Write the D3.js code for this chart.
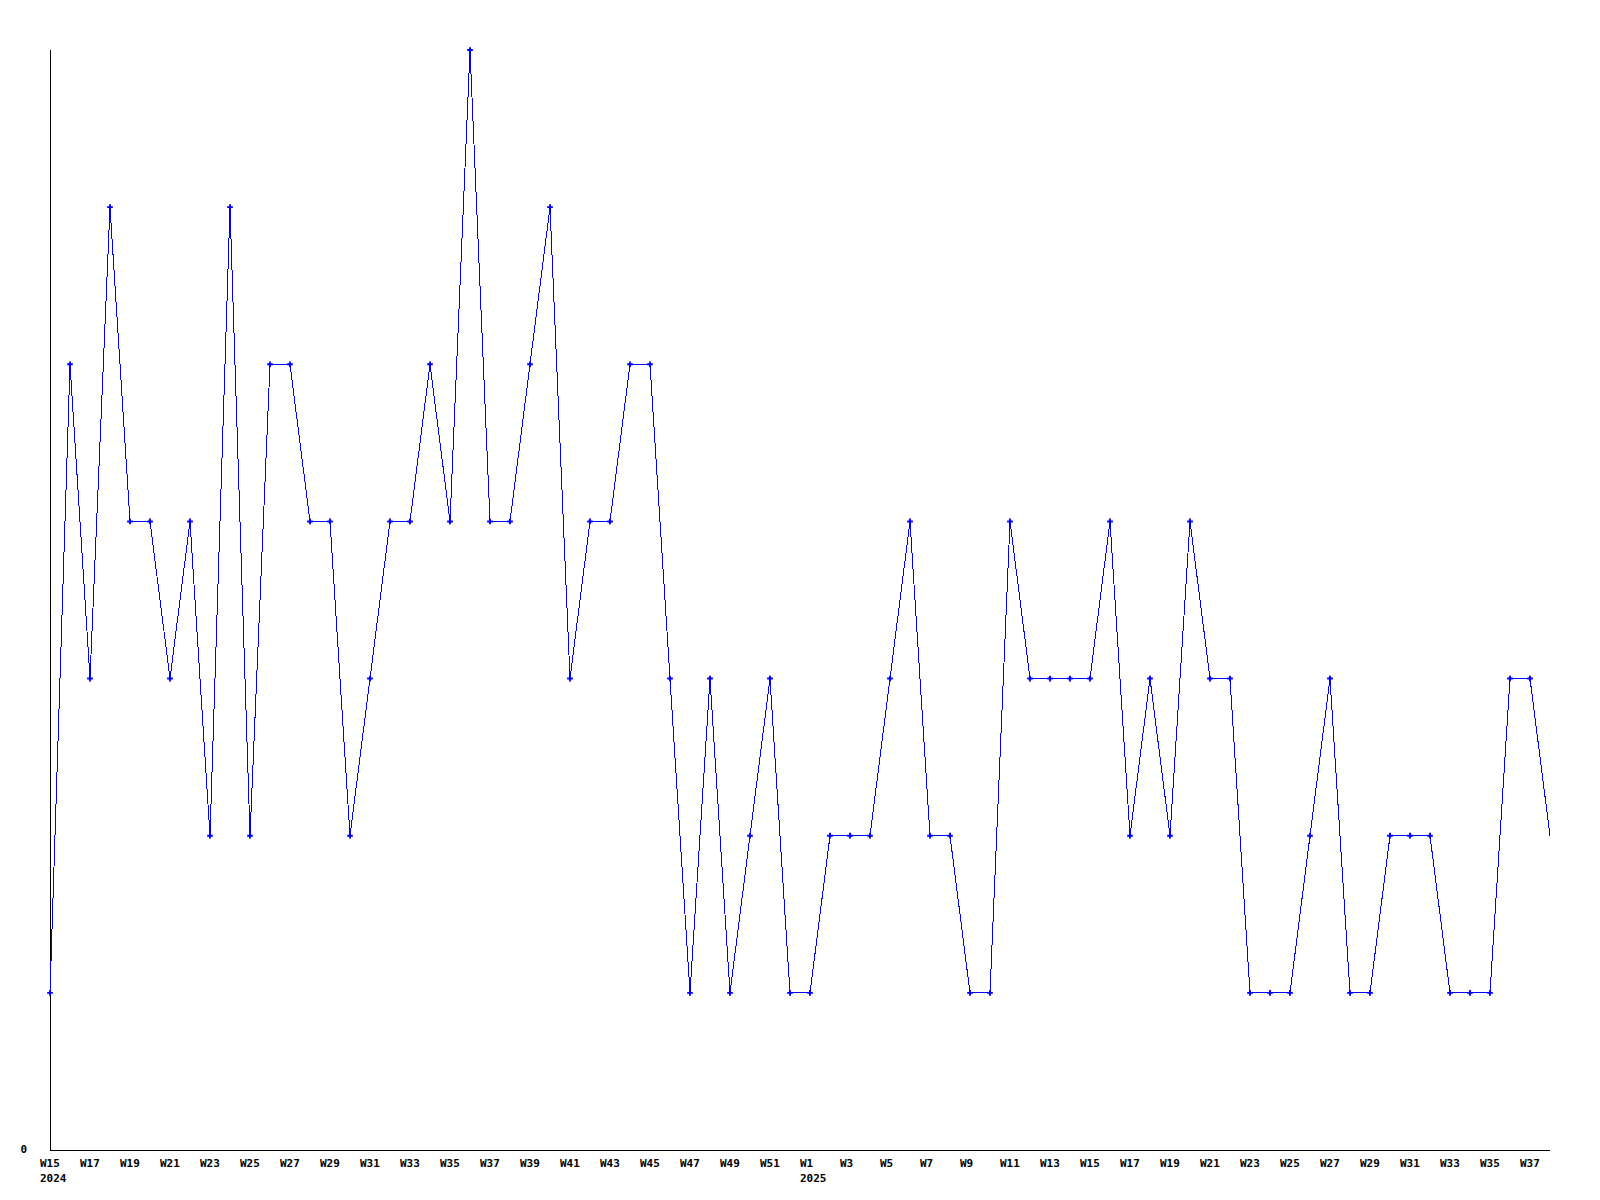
<!DOCTYPE html>
<html lang="en">
	<head>
		<meta charset="utf-8">
		<title>Weekly count</title>
		<script type="text/javascript" src="https://d3js.org/d3.v7.min.js"></script>
		<style>
			body { margin: 0; background: #fff; }
			text { font-family: "DejaVu Sans Mono", monospace; font-weight: bold; font-size: 11px; fill: #000; }
		</style>
	</head>
	<body>
		<svg></svg>
		<script type="text/javascript">
			var width = 1600;
			var height = 1200;

			// weeks, 2024 W15 .. 2025 W38
			var weeks = [];
			for (var w = 15; w <= 52; w++) weeks.push("W" + w);
			for (var w = 1; w <= 38; w++) weeks.push("W" + w);

			// values per week
			var values = [
				1, 5, 3, 6, 4, 4, 3, 4, 2, 6, 2, 5, 5, 4, 4, 2, 3, 4, 4, 5,
				4, 7, 4, 4, 5, 6, 3, 4, 4, 5, 5, 3, 1, 3, 1, 2, 3, 1,
				1, 2, 2, 2, 3, 4, 2, 2, 1, 1, 4, 3, 3, 3, 3, 4, 2, 3, 2, 4,
				3, 3, 1, 1, 1, 2, 3, 1, 1, 2, 2, 2, 1, 1, 1, 3, 3, 2
			];

			// year labels under the first week of each year
			var years = ["2024", "2025"];
			var yearIndex = [0, 38];

			var yMax = 7;

			var svg = d3.select("svg")
				.attr("width", width)
				.attr("height", height);

			var x = d3.scaleLinear()
				.domain([0, weeks.length - 1])
				.range([50, 1550]);

			var y = d3.scaleLinear()
				.domain([0, yMax])
				.range([1150, 50]);

			// axes
			svg.append("line")
				.attr("x1", 50.5).attr("x2", 50.5)
				.attr("y1", y(yMax)).attr("y2", y(0))
				.attr("stroke", "#000")
				.attr("shape-rendering", "crispEdges");
			svg.append("line")
				.attr("x1", 50).attr("x2", 1550)
				.attr("y1", y(0) + 0.5).attr("y2", y(0) + 0.5)
				.attr("stroke", "#000")
				.attr("shape-rendering", "crispEdges");

			// zero label
			svg.append("text")
				.attr("x", 27)
				.attr("y", y(0) + 3)
				.attr("text-anchor", "end")
				.text("0");

			// week labels every second week
			svg.selectAll("text.week")
				.data(weeks.filter(function(d, i) { return i % 2 === 0; }))
				.enter()
				.append("text")
				.attr("class", "week")
				.attr("x", function(d, i) { return x(i * 2) - 10; })
				.attr("y", 1167)
				.text(function(d) { return d; });

			svg.selectAll("text.year")
				.data(years)
				.enter()
				.append("text")
				.attr("class", "year")
				.attr("x", function(d, i) { return x(yearIndex[i]) - 10; })
				.attr("y", 1182)
				.text(function(d) { return d; });

			// the line
			var line = d3.line()
				.x(function(d, i) { return x(i); })
				.y(function(d) { return y(d); });

			svg.append("path")
				.datum(values)
				.attr("d", line)
				.attr("fill", "none")
				.attr("stroke", "#0000ff")
				.attr("stroke-width", 1)
				.attr("shape-rendering", "crispEdges");

			// markers on every point except the last
			svg.selectAll("path.mark")
				.data(values.slice(0, values.length - 1))
				.enter()
				.append("path")
				.attr("class", "mark")
				.attr("d", d3.symbol().type(d3.symbolCross).size(18))
				.attr("transform", function(d, i) { return "translate(" + x(i) + "," + y(d) + ")"; })
				.attr("fill", "#0000ff");
		</script>
	</body>
</html>
